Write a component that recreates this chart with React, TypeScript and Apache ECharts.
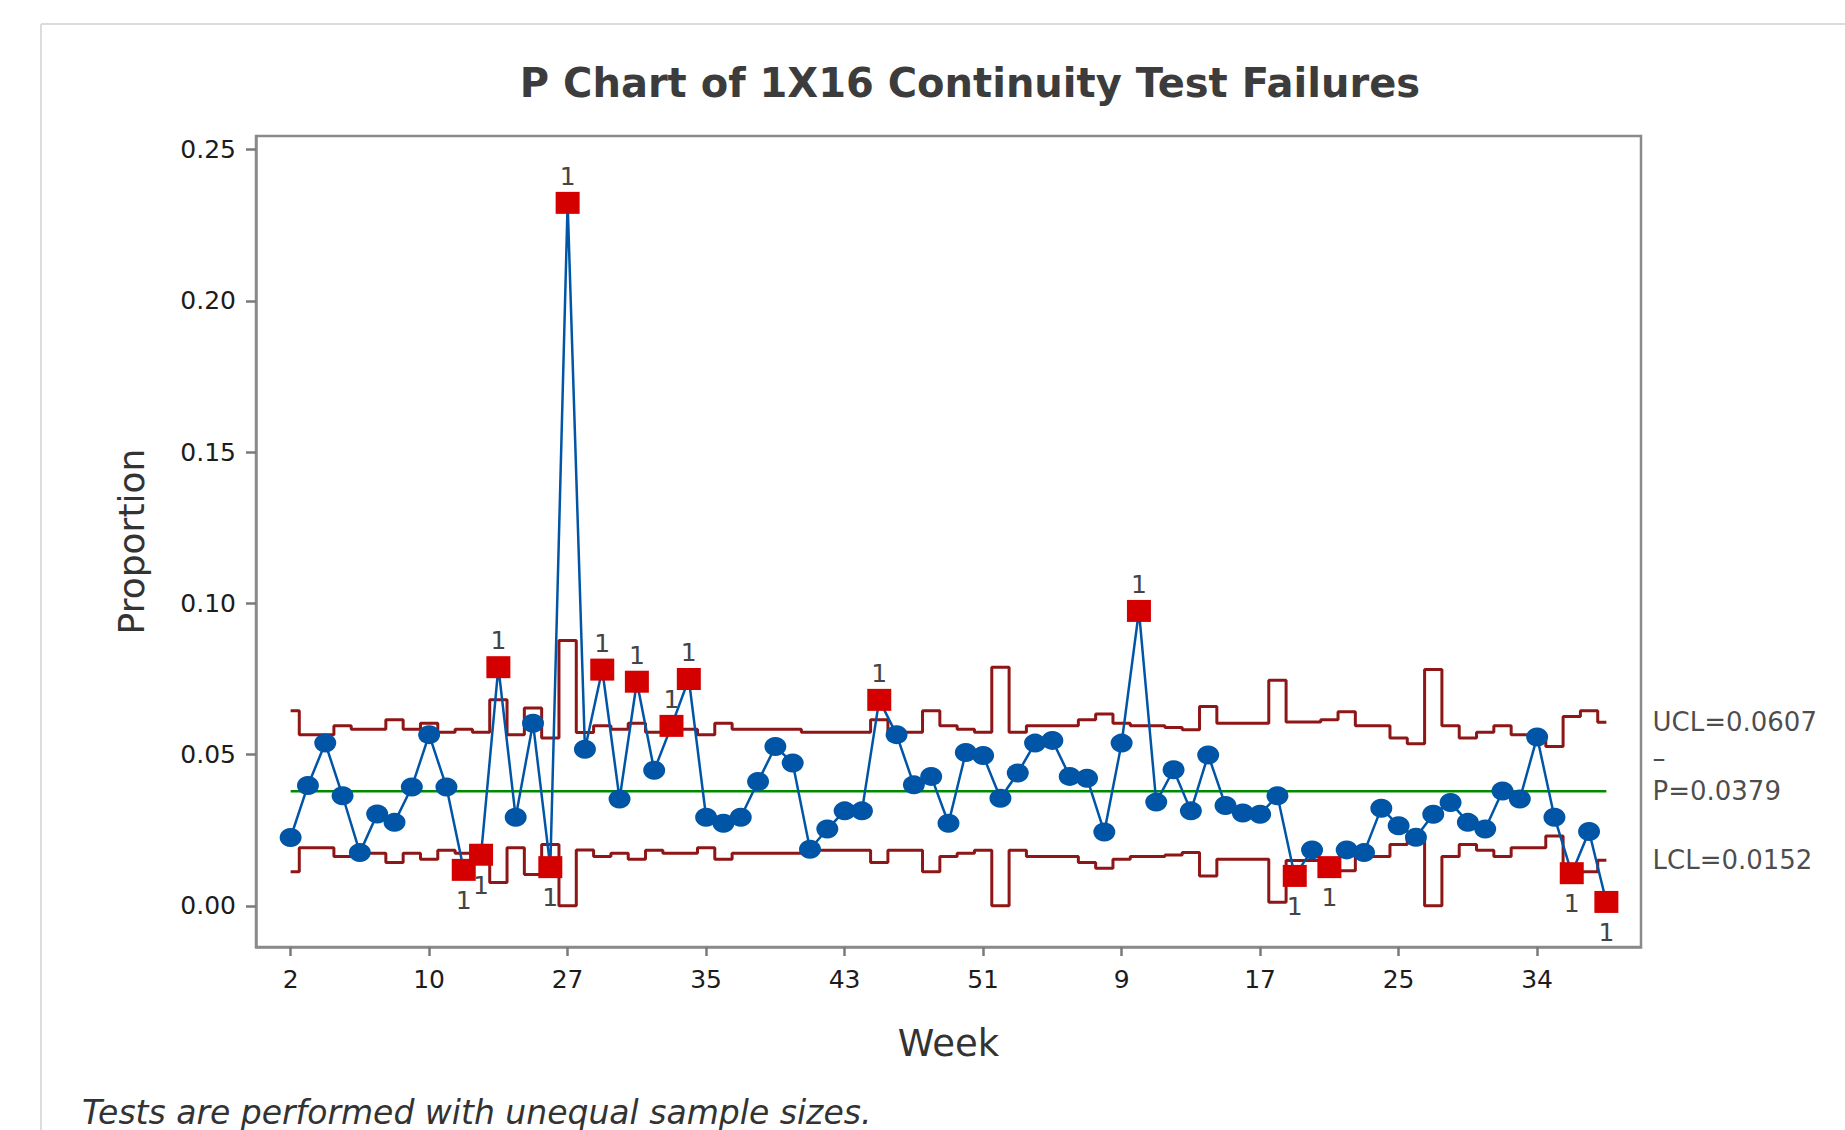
import React, { useEffect, useRef } from "react";
import * as echarts from "echarts";

// ---------- data ----------
const weekTickLabels = ["2", "10", "27", "35", "43", "51", "9", "17", "25", "34"];
const yTickValues = [0, 0.05, 0.1, 0.15, 0.2, 0.25];

const proportion = [
  0.0226, 0.0398, 0.0538, 0.0364, 0.0176, 0.0304, 0.0276, 0.0393, 0.0566, 0.0393,
  0.0119, 0.0169, 0.0789, 0.0293, 0.0604, 0.0128, 0.2324, 0.0518, 0.0781, 0.0353,
  0.0741, 0.0448, 0.0595, 0.075, 0.0293, 0.0273, 0.0293, 0.0411, 0.0527, 0.0472,
  0.0187, 0.0254, 0.0314, 0.0314, 0.0681, 0.0566, 0.04, 0.0428, 0.0273, 0.0507,
  0.0497, 0.0356, 0.0439, 0.0538, 0.0547, 0.0428, 0.0422, 0.0244, 0.0538, 0.0975,
  0.0343, 0.045, 0.0314, 0.0499, 0.0332, 0.0307, 0.0303, 0.0364, 0.0099, 0.0185,
  0.0128, 0.0185, 0.0176, 0.0323, 0.0265, 0.0227, 0.0303, 0.0342, 0.0276, 0.0254,
  0.038, 0.0353, 0.0558, 0.0293, 0.0108, 0.0246, 0.0013,
];

const ucl = [
  0.0645, 0.0566, 0.0566, 0.0595, 0.0584, 0.0584, 0.0615, 0.0584, 0.0604, 0.0574,
  0.0584, 0.0574, 0.0681, 0.0566, 0.0654, 0.0555, 0.0877, 0.0573, 0.0595, 0.0584,
  0.0604, 0.0574, 0.0584, 0.0584, 0.0566, 0.0604, 0.0584, 0.0584, 0.0584, 0.0584,
  0.0574, 0.0574, 0.0574, 0.0574, 0.0615, 0.0574, 0.0574, 0.0645, 0.0595, 0.0584,
  0.0574, 0.0789, 0.0574, 0.0595, 0.0595, 0.0595, 0.0615, 0.0634, 0.0604, 0.0595,
  0.0595, 0.059, 0.0582, 0.0659, 0.0604, 0.0604, 0.0604, 0.0746, 0.0608, 0.0608,
  0.0615, 0.0642, 0.0595, 0.0595, 0.0555, 0.0536, 0.0781, 0.0595, 0.0555, 0.0574,
  0.0595, 0.0566, 0.0566, 0.0527, 0.0626, 0.0645, 0.0607,
];

const lcl = [
  0.0113, 0.0192, 0.0192, 0.0163, 0.0174, 0.0174, 0.0143, 0.0174, 0.0154, 0.0184,
  0.0174, 0.0184, 0.0077, 0.0192, 0.0104, 0.0203, 0.0, 0.0185, 0.0163, 0.0174,
  0.0154, 0.0184, 0.0174, 0.0174, 0.0192, 0.0154, 0.0174, 0.0174, 0.0174, 0.0174,
  0.0184, 0.0184, 0.0184, 0.0184, 0.0143, 0.0184, 0.0184, 0.0113, 0.0163, 0.0174,
  0.0184, 0.0, 0.0184, 0.0163, 0.0163, 0.0163, 0.0143, 0.0124, 0.0154, 0.0163,
  0.0163, 0.0168, 0.0176, 0.0099, 0.0154, 0.0154, 0.0154, 0.0012, 0.015, 0.015,
  0.0143, 0.0116, 0.0163, 0.0163, 0.0203, 0.0222, 0.0, 0.0163, 0.0203, 0.0184,
  0.0163, 0.0192, 0.0192, 0.0231, 0.0132, 0.0113, 0.0151,
];

const outOfControl = [10, 11, 12, 15, 16, 18, 20, 22, 23, 34, 49, 58, 60, 74, 76];

const pBar = 0.0379;
const uclFinal = 0.0607;
const lclFinal = 0.0152;

// ---------- styling ----------
const BLUE = "#0055A6";
const RED = "#D40000";
const LIMIT = "#8E1616";
const GREEN = "#008A00";
const TXT = "#1c1c1c";
const FRAME = "#8a8a8a";
const FONT = "'DejaVu Sans', sans-serif";

export default function App() {
  const ref = useRef<HTMLDivElement>(null);

  useEffect(() => {
    if (!ref.current) return;
    const chart = echarts.init(ref.current, null, { renderer: "svg" });
    const last = proportion.length - 1;
    const xTickValues = weekTickLabels.map((_, k) => k * 8);

    const pointData = proportion.map((v, i) => {
      if (outOfControl.indexOf(i) >= 0) {
        const above = v > ucl[i];
        return {
          value: [i, v],
          symbol: "rect",
          symbolSize: [24, 22],
          itemStyle: { color: RED },
          label: {
            show: true,
            formatter: "1",
            position: above ? "top" : "bottom",
            distance: above ? 3 : 7,
            fontSize: 25,
            fontFamily: FONT,
            color: "#444444",
          },
        };
      }
      return { value: [i, v] };
    });

    const option: any = {
      animation: false,
      backgroundColor: "#ffffff",
      grid: {
        left: 256,
        right: 204,
        top: 136,
        bottom: 183,
        show: true,
        borderColor: FRAME,
        borderWidth: 2.5,
        backgroundColor: "transparent",
      },
      xAxis: {
        type: "value",
        min: -2,
        max: 78,
        axisLine: { show: true, onZero: false, lineStyle: { color: FRAME, width: 2.5 } },
        splitLine: { show: false },
        axisTick: {
          show: true,
          inside: false,
          length: 9,
          customValues: xTickValues,
          lineStyle: { color: "#7a7a7a", width: 2.5 },
        },
        axisLabel: {
          customValues: xTickValues,
          formatter: (v: number) => weekTickLabels[Math.round(v / 8)],
          margin: 20,
          fontSize: 25,
          fontFamily: FONT,
          color: TXT,
        },
        name: "Week",
        nameLocation: "middle",
        nameGap: 78,
        nameMoveOverlap: false,
        nameTextStyle: { fontSize: 37, fontFamily: FONT, color: "#333333" },
      },
      yAxis: {
        type: "value",
        min: -0.0136,
        max: 0.2545,
        axisLine: { show: true, onZero: false, lineStyle: { color: FRAME, width: 2.5 } },
        splitLine: { show: false },
        axisTick: {
          show: true,
          inside: false,
          length: 10,
          customValues: yTickValues,
          lineStyle: { color: "#7a7a7a", width: 2.5 },
        },
        axisLabel: {
          customValues: yTickValues,
          formatter: (v: number) => v.toFixed(2),
          margin: 20,
          fontSize: 25,
          fontFamily: FONT,
          color: TXT,
        },
        name: "Proportion",
        nameLocation: "middle",
        nameGap: 107,
        nameRotate: 90,
        nameMoveOverlap: false,
        nameTextStyle: { fontSize: 36, fontFamily: FONT, color: "#333333" },
      },
      series: [
        {
          name: "UCL",
          type: "line",
          step: "middle",
          silent: true,
          showSymbol: false,
          data: ucl.map((v, i) => [i, v]),
          lineStyle: { color: LIMIT, width: 3 },
          z: 2,
        },
        {
          name: "LCL",
          type: "line",
          step: "middle",
          silent: true,
          showSymbol: false,
          data: lcl.map((v, i) => [i, v]),
          lineStyle: { color: LIMIT, width: 3 },
          z: 2,
        },
        {
          name: "P",
          type: "line",
          silent: true,
          showSymbol: false,
          data: [
            [0, pBar],
            [last, pBar],
          ],
          lineStyle: { color: GREEN, width: 2.5 },
          z: 2,
        },
        {
          name: "Proportion",
          type: "line",
          silent: true,
          symbol: "circle",
          symbolSize: [22, 19],
          data: pointData,
          lineStyle: { color: BLUE, width: 2.5 },
          itemStyle: { color: BLUE },
          z: 3,
        },
        {
          name: "limitLabels",
          type: "scatter",
          silent: true,
          clip: false,
          symbolSize: 1,
          itemStyle: { color: "rgba(0,0,0,0)" },
          label: {
            show: true,
            position: "right",
            distance: 11,
            fontSize: 26,
            fontFamily: FONT,
            color: TXT,
          },
          data: [
            { value: [78, uclFinal], label: { formatter: "UCL=" + uclFinal.toFixed(4) } },
            { value: [78, pBar], label: { formatter: "P=" + pBar.toFixed(4) } },
            { value: [78, pBar], label: { formatter: "–", offset: [0, -33] } },
            { value: [78, lclFinal], label: { formatter: "LCL=" + lclFinal.toFixed(4) } },
          ],
          z: 4,
        },
      ],
      graphic: [
        {
          type: "line",
          silent: true,
          shape: { x1: 41, y1: 24, x2: 1845, y2: 24 },
          style: { stroke: "#dcdcdc", lineWidth: 2 },
        },
        {
          type: "line",
          silent: true,
          shape: { x1: 41, y1: 24, x2: 41, y2: 1130 },
          style: { stroke: "#dcdcdc", lineWidth: 2 },
        },
        {
          type: "text",
          silent: true,
          x: 970,
          y: 83,
          style: {
            text: "P Chart of 1X16 Continuity Test Failures",
            fontSize: 40,
            fontWeight: "bold",
            fontFamily: FONT,
            fill: "#3c3c3c",
            align: "center",
            verticalAlign: "middle",
          },
        },
        {
          type: "text",
          silent: true,
          x: 82,
          y: 1112,
          style: {
            text: "Tests are performed with unequal sample sizes.",
            fontSize: 33,
            fontStyle: "italic",
            fontFamily: FONT,
            fill: "#333333",
            align: "left",
            verticalAlign: "middle",
          },
        },
      ],
    };

    chart.setOption(option);
    return () => chart.dispose();
  }, []);

  return (
    <div
      ref={ref}
      style={{ position: "absolute", left: 0, top: 0, width: 1845, height: 1130 }}
    />
  );
}
